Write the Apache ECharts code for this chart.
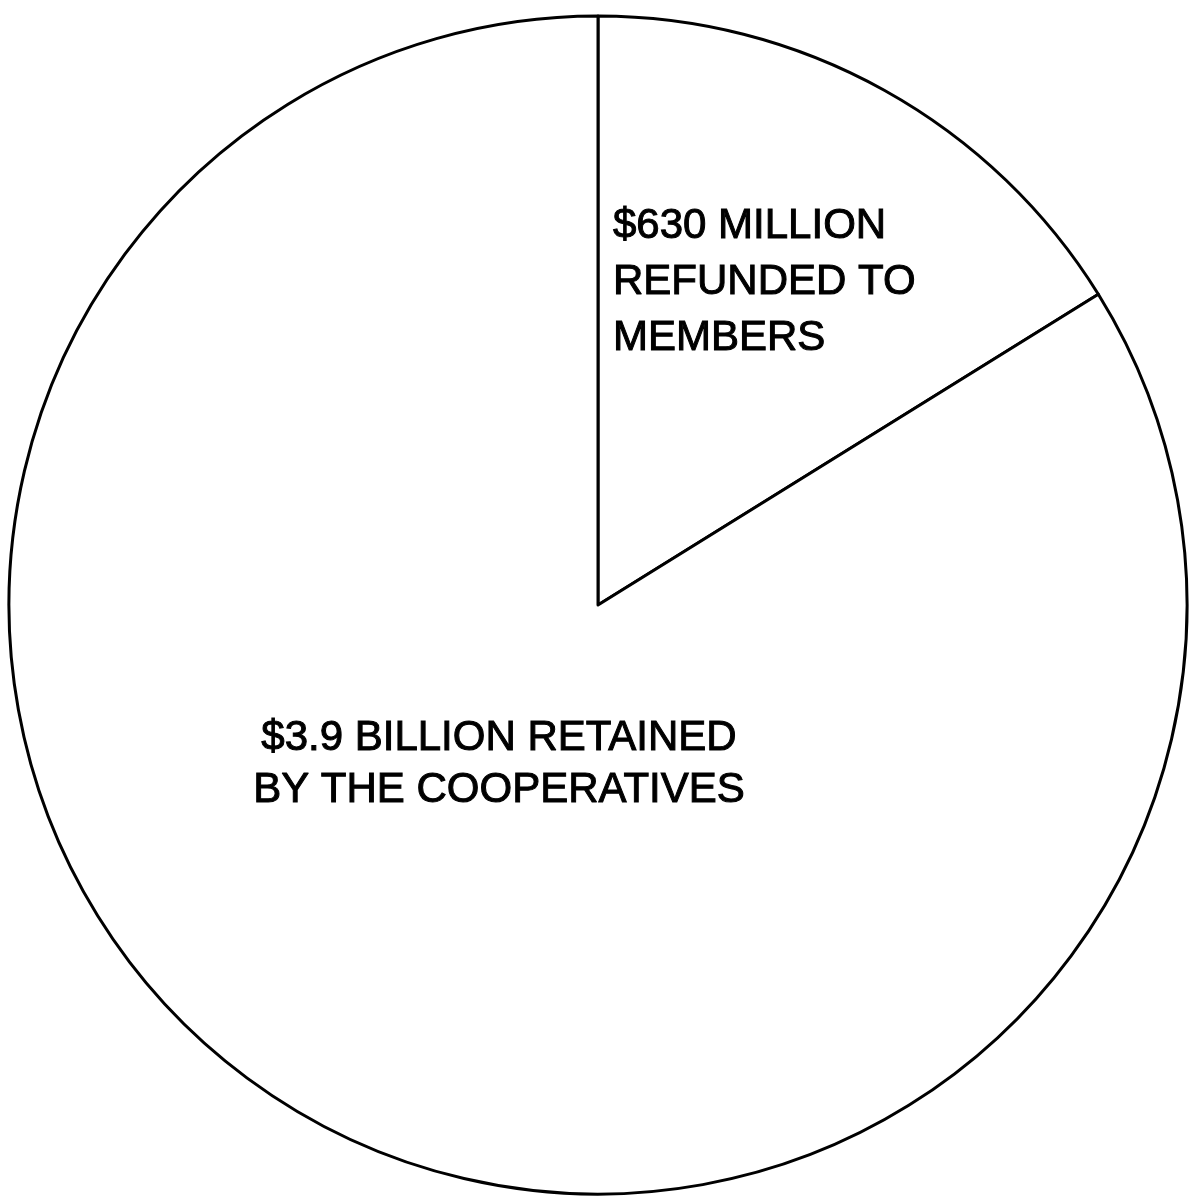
<!DOCTYPE html>
<html>
<head>
<meta charset="utf-8">
<script src="https://cdn.jsdelivr.net/npm/echarts@6/dist/echarts.min.js"></script>
<style>
html,body{margin:0;padding:0;background:#fff;}
#chart{width:1193px;height:1203px;}
</style>
</head>
<body>
<div id="chart"></div>
<script>
// Total earnings $3.9 billion; $630 million of it refunded to members
const categories = ['Refunded to members', 'Retained by the cooperatives'];
const values = [630, 3270]; // millions of dollars
const labelTexts = ['$630 MILLION\nREFUNDED TO\nMEMBERS', '$3.9 BILLION RETAINED\nBY THE COOPERATIVES'];

const chart = echarts.init(document.getElementById('chart'), null, {renderer: 'canvas'});
const labelPos = [
  {x: 613, y: 282, align: 'left', verticalAlign: 'middle'},
  {x: 499, y: 764, align: 'center', verticalAlign: 'middle'}
];
chart.setOption({
  backgroundColor: '#ffffff',
  animation: false,
  series: [{
    type: 'pie',
    center: [598, 605],
    radius: [0, 589],
    startAngle: 90,
    clockwise: true,
    silent: true,
    itemStyle: {color: '#ffffff', borderColor: '#000000', borderWidth: 3},
    label: {
      show: true,
      position: 'inside',
      color: '#000000',
      fontFamily: 'Liberation Sans, Arial, sans-serif',
      fontSize: 42,
      textBorderColor: '#000000',
      textBorderWidth: 1,
      formatter: p => labelTexts[p.dataIndex]
    },
    labelLine: {show: false},
    labelLayout: p => labelPos[p.dataIndex],
    data: categories.map((c, i) => ({
      name: c,
      value: values[i],
      label: {lineHeight: i === 0 ? 56 : 52}
    }))
  }]
});
</script>
</body>
</html>
